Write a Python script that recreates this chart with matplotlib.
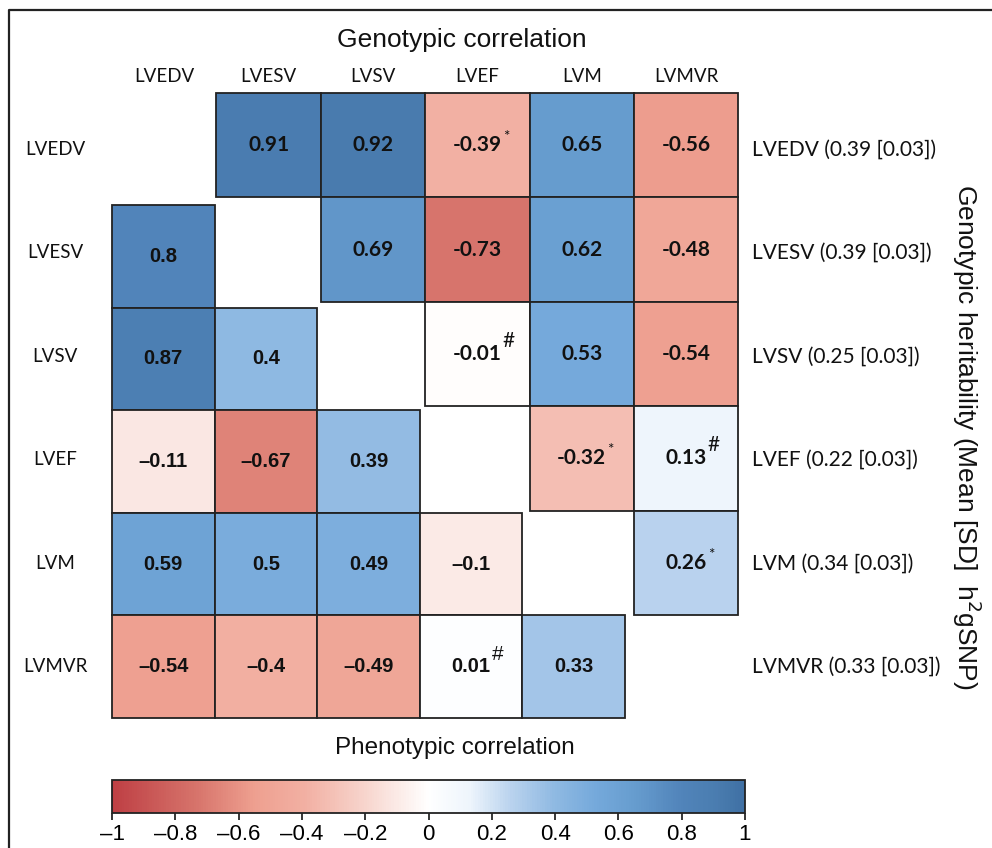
import numpy as np
import matplotlib
matplotlib.use("Agg")
import matplotlib.pyplot as plt
from matplotlib.colors import LinearSegmentedColormap, Normalize
from matplotlib.patches import Rectangle
from matplotlib.cm import ScalarMappable

traits = ["LVEDV", "LVESV", "LVSV", "LVEF", "LVM", "LVMVR"]
herit = ["0.39 [0.03]", "0.39 [0.03]", "0.25 [0.03]", "0.22 [0.03]", "0.34 [0.03]", "0.33 [0.03]"]

# genotypic (upper triangle), row by row, columns i+1..5
geno = [
    [0.91, 0.92, -0.39, 0.65, -0.56],
    [0.69, -0.73, 0.62, -0.48],
    [-0.01, 0.53, -0.54],
    [-0.32, 0.13],
    [0.26],
]
geno_mark = [
    ["", "", "*", "", ""],
    ["", "", "", ""],
    ["#", "", ""],
    ["*", "#"],
    ["*"],
]
# phenotypic (lower triangle), row i, columns 0..i-1
pheno = [
    [],
    [0.8],
    [0.87, 0.4],
    [-0.11, -0.67, 0.39],
    [0.59, 0.5, 0.49, -0.1],
    [-0.54, -0.4, -0.49, 0.01, 0.33],
]
pheno_mark = [
    [],
    [""],
    ["", ""],
    ["", "", ""],
    ["", "", "", ""],
    ["", "", "", "#", ""],
]

cmap = LinearSegmentedColormap.from_list("rb", [
    (0.0, "#be3f44"), (0.135, "#d7756c"), (0.225, "#eea090"), (0.305, "#f2b0a3"),
    (0.4, "#f7d5cd"), (0.5, "#ffffff"), (0.565, "#eef5fc"), (0.63, "#bad3ee"),
    (0.7, "#8fb9e2"), (0.765, "#75a9db"), (0.825, "#679dcf"), (0.9, "#5184ba"),
    (0.955, "#4a7db0"), (1.0, "#3f70a4")])
norm = Normalize(-1, 1)

SANS = "Liberation Sans"

W, H = 992, 848
fig = plt.figure(figsize=(W / 100, H / 100), dpi=100)
ax = fig.add_axes([0, 0, 1, 1])
ax.set_xlim(0, W)
ax.set_ylim(H, 0)
ax.axis("off")

# outer frame (partially cropped)
ax.plot([9, 9, W + 5], [H + 5, 10, 10], color="#222222", lw=1.6, clip_on=False)

x0 = 112
up_cell, up_y0 = 104.4, 93
lo_cell, lo_y0 = 102.6, 102.4

def fmt(v, minus):
    s = ("%.2f" % v).rstrip("0").rstrip(".") if v != 0 else "0"
    return s.replace("-", minus)

marks = []
for i, row in enumerate(geno):
    for k, v in enumerate(row):
        j = i + 1 + k
        x, y = x0 + j * up_cell, up_y0 + i * up_cell
        ax.add_patch(Rectangle((x, y), up_cell, up_cell, facecolor=cmap(norm(v)),
                               edgecolor="#222222", lw=1.3))
        t = ax.text(x + up_cell / 2, y + up_cell / 2, fmt(v, "-"), ha="center", va="center",
                    fontsize=15, fontweight="bold", family="Lato", color="#111111")
        if geno_mark[i][k]:
            marks.append((t, geno_mark[i][k], "Lato"))

for i, row in enumerate(pheno):
    for j, v in enumerate(row):
        x, y = x0 + j * lo_cell, lo_y0 + i * lo_cell
        ax.add_patch(Rectangle((x, y), lo_cell, lo_cell, facecolor=cmap(norm(v)),
                               edgecolor="#222222", lw=1.3))
        t = ax.text(x + lo_cell / 2, y + lo_cell / 2, fmt(v, "\u2013"), ha="center", va="center",
                    fontsize=14.5, fontweight="bold", family=SANS, color="#111111")
        if pheno_mark[i][j]:
            marks.append((t, pheno_mark[i][j], SANS))

fig.canvas.draw()
r = fig.canvas.get_renderer()
inv = ax.transData.inverted()
for t, m, fam in marks:
    bb = t.get_window_extent(r)
    (xr, yt) = inv.transform((bb.x1, bb.y1))
    if m == "*":
        ax.text(xr + 1, yt + 2, m, ha="left", va="center", fontsize=11, family="Lato", color="#111111")
    else:
        ax.text(xr + 1, yt - 3, m, ha="left", va="center", fontsize=15, family=fam, color="#111111")

# labels
for j, name in enumerate(traits):
    ax.text(x0 + j * up_cell + up_cell / 2, 76, name, ha="center", va="center",
            fontsize=13.5, family="Lato", color="#111111")
    yc = (up_y0 + j * up_cell + up_cell / 2 + lo_y0 + j * lo_cell + lo_cell / 2) / 2
    ax.text(55, yc, name, ha="center", va="center", fontsize=13.5, family="Lato", color="#111111")
    ax.text(752, yc, "%s (%s)" % (name, herit[j]), ha="left", va="center",
            fontsize=15, family="Lato", color="#111111")

ax.text(462, 40, "Genotypic correlation", ha="center", va="center", fontsize=19,
        family=SANS, color="#111111")
ax.text(455, 748, "Phenotypic correlation", ha="center", va="center", fontsize=17.5,
        family=SANS, color="#111111")
ax.text(967, 437, r"Genotypic heritability (Mean [SD]  h$^2$gSNP)", ha="center", va="center",
        rotation=-90, fontsize=19, family=SANS, color="#111111")

# colorbar
cax = fig.add_axes([112 / W, (H - 813) / H, 633 / W, 33 / H])
cb = fig.colorbar(ScalarMappable(norm=norm, cmap=cmap), cax=cax, orientation="horizontal")
ticks = np.round(np.arange(-1, 1.01, 0.2), 1)
cb.set_ticks(ticks)
cb.set_ticklabels([("%g" % v).replace("-", "\u2013") if abs(v) > 1e-9 else "0" for v in ticks])
cb.outline.set_linewidth(1.3)
cb.outline.set_edgecolor("#222222")
cax.tick_params(length=5, width=1.1, labelsize=16, pad=3)
for lab in cax.get_xticklabels():
    lab.set_family(SANS)

fig.savefig("out.png", dpi=100)
